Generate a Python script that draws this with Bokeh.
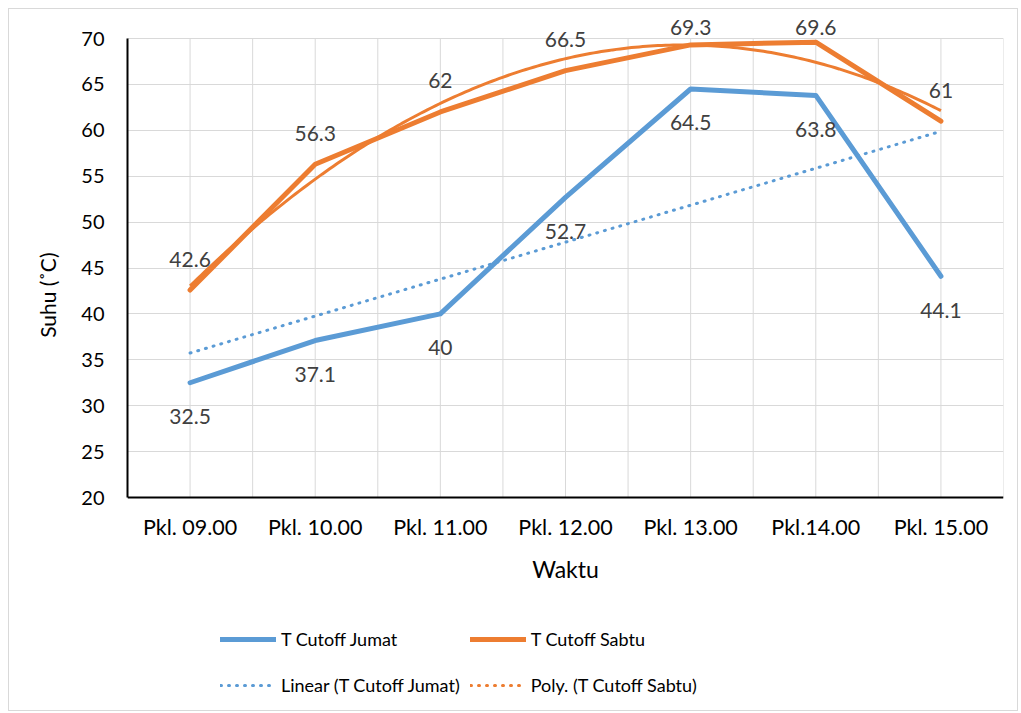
import numpy as np
from bokeh.plotting import figure
from bokeh.models import (ColumnDataSource, LabelSet, FixedTicker, Legend, LegendItem,
                          Range1d, Title)
from bokeh.core.properties import value
from bokeh.embed import file_html
from bokeh.resources import INLINE

categories = ["Pkl. 09.00", "Pkl. 10.00", "Pkl. 11.00", "Pkl. 12.00",
              "Pkl. 13.00", "Pkl.14.00", "Pkl. 15.00"]
jumat = [32.5, 37.1, 40, 52.7, 64.5, 63.8, 44.1]
sabtu = [42.6, 56.3, 62, 66.5, 69.3, 69.6, 61]
y_ticks = [20, 25, 30, 35, 40, 45, 50, 55, 60, 65, 70]

BLUE = "#5B9BD5"
ORANGE = "#ED7D31"
GRID = "#D9D9D9"
FONT = "Lato"

n = len(categories)
x = np.arange(1, n + 1)
lin_coef = np.polyfit(x, jumat, 1)
poly_coef = np.polyfit(x, sabtu, 2)
xf = np.linspace(1, n, 200)

# layout geometry (page pixels): axis 20 at 497, 70 at 38; frame spans 10..705
PX_PER_UNIT = (497 - 38) / 50.0
y_top = 70 + (38 - 10) / PX_PER_UNIT
y_bot = 20 - (705 - 497) / PX_PER_UNIT

p = figure(width=1010, height=703, x_range=Range1d(0.5, n + 0.5),
           y_range=Range1d(y_bot, y_top),
           output_backend="svg", toolbar_location=None,
           min_border_left=118, min_border_right=16, min_border_top=1,
           min_border_bottom=7)
p.styles = {"border": "1px solid #D9D9D9", "margin-left": "8px", "margin-top": "8px"}
p.outline_line_color = None

# grid: horizontal lines via grid, vertical lines bounded to plot area
p.xgrid.visible = False
p.ygrid.ticker = FixedTicker(ticks=y_ticks)
p.ygrid.grid_line_color = GRID
p.ygrid.grid_line_width = 1
gx = np.arange(0.5, n + 0.51, 0.5)
p.segment(x0=gx, y0=[y_ticks[0]] * len(gx), x1=gx, y1=[y_ticks[-1]] * len(gx),
          line_color=GRID, line_width=1)

# axes
p.xaxis.ticker = FixedTicker(ticks=list(x))
p.xaxis.major_label_overrides = {int(i): c for i, c in zip(x, categories)}
p.xaxis.fixed_location = y_ticks[0]
p.yaxis.ticker = FixedTicker(ticks=y_ticks)
p.yaxis.bounds = (y_ticks[0], y_ticks[-1])
for ax in (p.xaxis[0], p.yaxis[0]):
    ax.axis_line_color = "black"
    ax.axis_line_width = 2
    ax.major_tick_line_color = None
    ax.minor_tick_line_color = None
    ax.major_label_text_font = FONT
    ax.major_label_text_color = "#000000"
    ax.axis_label_text_font = FONT
    ax.axis_label_text_font_size = "23px"
    ax.axis_label_text_font_style = "normal"
    ax.axis_label_text_color = "#000000"
p.xaxis.major_label_text_font_size = "21.5px"
p.yaxis.major_label_text_font_size = "20px"
p.xaxis.axis_label = "Waktu"
p.xaxis.major_label_standoff = 10
p.xaxis.axis_label_standoff = 12
p.yaxis.major_label_standoff = 17

# y-axis title, placed beside the 20..70 part of the axis
p.add_layout(Title(text="Suhu (˚C)", align="right", offset=242, standoff=38,
                   text_font=FONT, text_font_size="21px", text_font_style="normal",
                   text_color="#000000"), "left")

# trend lines
r_lin = p.line(xf, np.polyval(lin_coef, xf), line_color=BLUE, line_width=3,
               line_dash="1 7", line_cap="round")
r_poly = p.line(xf, np.polyval(poly_coef, xf), line_color=ORANGE, line_width=3)
r_poly_leg = p.line([1, 2], [np.nan, np.nan], line_color=ORANGE, line_width=3,
                    line_dash="1 7", line_cap="round")

# series
r_j = p.line(x, jumat, line_color=BLUE, line_width=5, line_join="round", line_cap="round")
r_s = p.line(x, sabtu, line_color=ORANGE, line_width=5, line_join="round", line_cap="round")

# data labels
src_j = ColumnDataSource(dict(x=x, y=jumat, t=[str(v) for v in jumat]))
off_s = [min(31.0, (70 - v) * PX_PER_UNIT + 11) for v in sabtu]
src_s = ColumnDataSource(dict(x=x, y=sabtu, t=[str(v) for v in sabtu], off=off_s))
p.add_layout(LabelSet(x="x", y="y", text="t", source=src_j, y_offset=-34,
                      text_align="center", text_baseline="middle",
                      text_font=value(FONT), text_font_size="21px",
                      text_color="#404040"))
p.add_layout(LabelSet(x="x", y="y", text="t", source=src_s, y_offset="off",
                      text_align="center", text_baseline="middle",
                      text_font=value(FONT), text_font_size="21px",
                      text_color="#404040"))

legend = Legend(items=[
    LegendItem(label="T Cutoff Jumat", renderers=[r_j]),
    LegendItem(label="T Cutoff Sabtu", renderers=[r_s]),
    LegendItem(label="Linear (T Cutoff Jumat)", renderers=[r_lin]),
    LegendItem(label="Poly. (T Cutoff Sabtu)", renderers=[r_poly_leg]),
], orientation="horizontal", ncols=2, location=(93, 2),
    label_text_font=FONT, label_text_font_size="18px", label_text_color="#000000",
    glyph_width=56, glyph_height=36, label_standoff=5, spacing=10,
    border_line_color=None, background_fill_alpha=0, margin=0, padding=0)
p.add_layout(legend, "center")

open("out.html", "w").write(file_html(p, INLINE))
